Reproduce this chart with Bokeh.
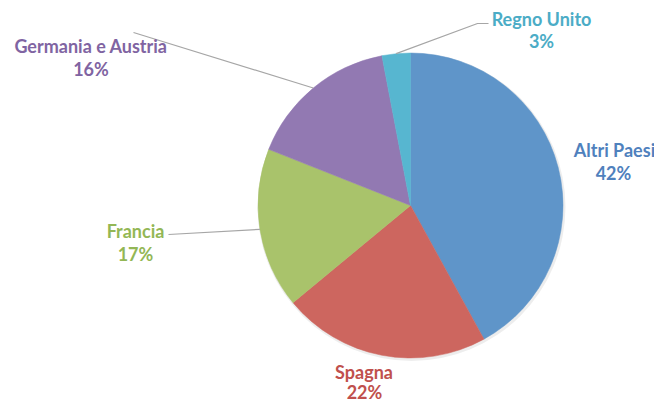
import numpy as np
from bokeh.plotting import figure
from bokeh.models import Range1d
from bokeh.core.properties import value
from bokeh.embed import file_html
from bokeh.resources import INLINE

# ---- data ----
categories = ["Altri Paesi", "Spagna", "Francia", "Germania e Austria", "Regno Unito"]
shares = [42, 22, 17, 16, 3]
pct_labels = ["42%", "22%", "17%", "16%", "3%"]

# ---- styles ----
slice_colors = ["#5F95C9", "#CD665F", "#A9C36B", "#9279B2", "#57B6D0"]
text_colors = ["#4F81BD", "#C0504D", "#93B755", "#8064A2", "#4BACC6"]
FONT = "Lato"
FONT_SIZE = "18px"

# ---- layout (page pixels) ----
W, H = 654, 402
center_px = (410, 205)
R = 152.5
name_pos_px = [(614, 149), (363.5, 371), (135, 230), (90.5, 45), (541, 18)]
pct_pos_px = [(613, 172), (364, 391.5), (135, 253.5), (90.5, 68.5), (541, 40.5)]
leader_start_px = {2: [(168, 234)], 3: [(133, 32)], 4: [(488, 23), (477, 23)]}


def dx(x):
    return x


def dy(y):
    return H - y


p = figure(width=W, height=H, x_range=Range1d(0, W), y_range=Range1d(0, H),
           output_backend="svg", toolbar_location=None, min_border=0,
           x_axis_type=None, y_axis_type=None, outline_line_color=None)
p.grid.visible = False
p.background_fill_color = "white"

cx, cy = dx(center_px[0]), dy(center_px[1])

# subtle shadow
p.circle(x=[cx + 1], y=[cy - 1.5], radius=R + 1.5, fill_color="black",
         fill_alpha=0.07, line_color=None)

total = float(sum(shares))
fr = np.array(shares) / total
cum_end = np.cumsum(fr)
cum_start = cum_end - fr
start_angles = np.pi / 2 - cum_start * 2 * np.pi
end_angles = np.pi / 2 - cum_end * 2 * np.pi
mid_angles = np.pi / 2 - (cum_start + cum_end) / 2 * 2 * np.pi

p.wedge(x=[cx] * len(shares), y=[cy] * len(shares), radius=R,
        start_angle=list(start_angles), end_angle=list(end_angles),
        direction="clock", fill_color=slice_colors, line_color=slice_colors,
        line_width=0.5)

# leader lines
for i, pts in leader_start_px.items():
    ex = cx + R * np.cos(mid_angles[i])
    ey = cy + R * np.sin(mid_angles[i])
    xs = [dx(a) for a, b in pts] + [ex]
    ys = [dy(b) for a, b in pts] + [ey]
    p.line(xs, ys, line_color="#A6A6A6", line_width=1.2)

# labels
p.text(x=[dx(a) for a, b in name_pos_px], y=[dy(b) for a, b in name_pos_px],
       text=categories, text_color=text_colors, text_font=value(FONT),
       text_font_style="bold", text_font_size=FONT_SIZE,
       text_align="center", text_baseline="middle")
p.text(x=[dx(a) for a, b in pct_pos_px], y=[dy(b) for a, b in pct_pos_px],
       text=pct_labels, text_color=text_colors, text_font=value(FONT),
       text_font_style="bold", text_font_size=FONT_SIZE,
       text_align="center", text_baseline="middle")

open("out.html", "w").write(file_html(p, INLINE))
